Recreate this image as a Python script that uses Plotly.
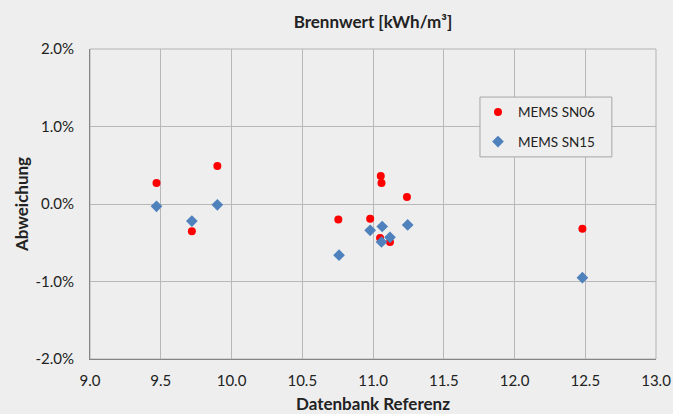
import plotly.graph_objects as go

# Data
sn06_x = [9.47, 9.72, 9.90, 10.755, 10.98, 11.055, 11.06, 11.05, 11.12, 11.24, 12.48]
sn06_y = [0.0027, -0.0035, 0.0049, -0.0020, -0.0019, 0.0036, 0.0027, -0.0044, -0.0049, 0.0009, -0.0032]
sn15_x = [9.47, 9.72, 9.90, 10.76, 10.98, 11.065, 11.06, 11.12, 11.245, 12.48]
sn15_y = [-0.0003, -0.0022, -0.0001, -0.0066, -0.0034, -0.0029, -0.0049, -0.0043, -0.0027, -0.0095]

x_ticks = [9.0, 9.5, 10.0, 10.5, 11.0, 11.5, 12.0, 12.5, 13.0]
x_ticktext = ["9.0", "9.5", "10.0", "10.5", "11.0", "11.5", "12.0", "12.5", "13.0"]
y_ticks = [-0.02, -0.01, 0.0, 0.01, 0.02]
y_ticktext = ["-2.0%", "-1.0%", "0.0%", "1.0%", "2.0%"]

BG = "#eeeeee"
GRID = "#b8b8b8"
AXIS = "#858585"
FONT = "Lato, 'Open Sans', sans-serif"

fig = go.Figure()
fig.add_trace(go.Scatter(x=sn06_x, y=sn06_y, mode="markers", name="MEMS SN06",
                         legendgroup="a",
                         marker=dict(symbol="circle", size=8, color="#ff0000")))
fig.add_trace(go.Scatter(x=sn15_x, y=sn15_y, mode="markers", name="MEMS SN15",
                         legendgroup="b",
                         marker=dict(symbol="diamond", size=9, color="#4f81bd")))

# plot border (light) and legend box
fig.add_shape(type="rect", xref="paper", yref="paper", x0=0, y0=0, x1=1, y1=1,
              line=dict(color="#b3b3b3", width=1), layer="below")
fig.add_shape(type="rect", xref="paper", yref="paper", x0=0.689, y0=0.652, x1=0.922, y1=0.845,
              line=dict(color="#a6a6a6", width=1), fillcolor=BG, layer="above")

fig.update_layout(
    width=673, height=414,
    paper_bgcolor=BG, plot_bgcolor=BG,
    margin=dict(l=90, r=17, t=49, b=55),
    font=dict(family=FONT, size=15, color="#222222"),
    title=dict(text="<b>Brennwert [kWh/m³]</b>", x=0.5, xref="paper", xanchor="center",
               y=0.947, yref="container", yanchor="middle", font=dict(size=17, color="#222222")),
    showlegend=True,
    legend=dict(x=0.6855, y=0.846, xanchor="left", yanchor="top",
                bgcolor="rgba(0,0,0,0)", borderwidth=0,
                font=dict(size=13.5, color="#222222"), itemsizing="trace",
                tracegroupgap=9),
    xaxis=dict(range=[9.0, 13.0], tickvals=x_ticks, ticktext=x_ticktext,
               showgrid=True, gridcolor=GRID, gridwidth=1, automargin=False,
               showline=True, linecolor=AXIS, linewidth=1, mirror=False,
               zeroline=False, ticks="", ticklen=0, ticklabelstandoff=8,
               title=dict(text="<b>Datenbank Referenz</b>", font=dict(size=17), standoff=12)),
    yaxis=dict(range=[-0.02, 0.02], tickvals=y_ticks, ticktext=y_ticktext,
               showgrid=True, gridcolor=GRID, gridwidth=1, automargin=False,
               showline=True, linecolor=AXIS, linewidth=1, mirror=False,
               zeroline=False, ticks="", ticklen=0, ticklabelstandoff=12,
               title=dict(text="<b>Abweichung</b>", font=dict(size=17), standoff=2)),
)

fig.write_html("out.html", config={"displayModeBar": False},
               post_script="document.body.style.margin='0';document.body.style.background='#eeeeee';")
